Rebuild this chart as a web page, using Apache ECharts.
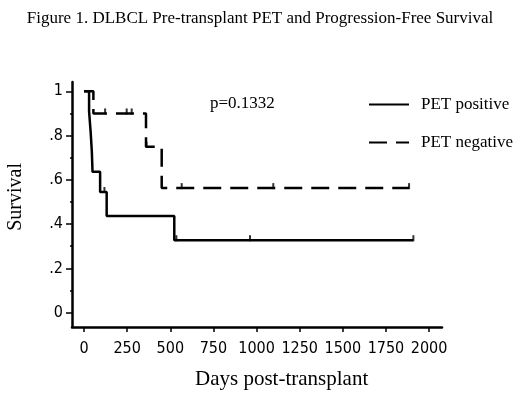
<!DOCTYPE html>
<html>
<head>
<meta charset="utf-8">
<script src="https://cdn.jsdelivr.net/npm/echarts@6/dist/echarts.min.js"></script>
<style>
  html, body { margin: 0; padding: 0; background: #fff; }
  #chart { width: 520px; height: 398px; }
</style>
</head>
<body>
<div id="chart"></div>
<script>
// Kaplan-Meier steps
const posDays = [0, 29, 38, 45, 49, 93, 131, 523, 1909];
const posSurv = [1, 0.909, 0.818, 0.727, 0.636, 0.545, 0.436, 0.327, 0.327];
const posCensorDays = [118, 535, 962, 1909];
const posCensorSurv = [0.545, 0.327, 0.327, 0.327];

const negDays = [0, 54, 359, 450, 1884];
const negSurv = [1, 0.9, 0.75, 0.5625, 0.5625];
const negCensorDays = [122, 247, 276, 362, 566, 1097, 1884];
const negCensorSurv = [0.9, 0.9, 0.9, 0.75, 0.5625, 0.5625, 0.5625];

const xTicks = [0, 250, 500, 750, 1000, 1250, 1500, 1750, 2000];
const yTicks = [0, 0.2, 0.4, 0.6, 0.8, 1];
const yMinorTicks = [0.1, 0.3, 0.5, 0.7, 0.9];

const serif = '"Liberation Serif", "Times New Roman", serif';
const narrow = '"DejaVu Sans Condensed", "Liberation Sans Narrow", "Arial Narrow", sans-serif';

const zip = (xs, ys) => xs.map((x, i) => [x, ys[i]]);

const chart = echarts.init(document.getElementById('chart'), null, { renderer: 'canvas' });

const yAxisBase = {
  type: 'value',
  min: -0.065,
  max: 1.042,
  splitLine: { show: false },
  position: 'left',
};

const censorStyle = {
  type: 'scatter',
  symbol: 'rect',
  symbolSize: [2, 6],
  symbolOffset: [0, -2],
  itemStyle: { color: '#000' },
  silent: true,
  z: 3,
};

chart.setOption({
  animation: false,
  backgroundColor: '#fff',
  title: {
    text: 'Figure 1. DLBCL Pre-transplant PET and Progression-Free Survival',
    left: 'center',
    top: 5,
    textStyle: { fontFamily: serif, fontSize: 17, fontWeight: 'normal', color: '#000' },
  },
  grid: { left: 72, right: 78, top: 82, bottom: 71 },
  legend: {
    orient: 'vertical',
    left: 363,
    top: 91,
    itemWidth: 40,
    itemHeight: 14,
    itemGap: 21,
    data: ['PET positive', 'PET negative'],
    itemStyle: { opacity: 0 },
    textStyle: { fontFamily: serif, fontSize: 17, color: '#000', padding: [0, 0, 0, 7] },
  },
  xAxis: {
    type: 'value',
    min: -70,
    max: 2075,
    splitLine: { show: false },
    axisLine: { onZero: false, lineStyle: { color: '#000', width: 2.5 } },
    axisTick: { customValues: xTicks, length: 5, lineStyle: { color: '#000', width: 1.5 } },
    axisLabel: {
      customValues: xTicks,
      margin: 14,
      fontFamily: narrow,
      fontSize: 16,
      color: '#000',
      formatter: v => String(v),
    },
  },
  yAxis: [
    Object.assign({}, yAxisBase, {
      axisLine: { show: true, onZero: false, lineStyle: { color: '#000', width: 2.5 } },
      axisTick: { customValues: yTicks, length: 6, lineStyle: { color: '#000', width: 1.5 } },
      axisLabel: {
        customValues: yTicks,
        margin: 9,
        fontFamily: narrow,
        fontSize: 16,
        color: '#000',
        formatter: v => (v === 0 ? '0' : v === 1 ? '1' : v.toFixed(1).replace(/^0/, '')),
      },
    }),
    Object.assign({}, yAxisBase, {
      axisLine: { show: false, onZero: false },
      axisTick: { customValues: yMinorTicks, length: 2, lineStyle: { color: '#000', width: 1.5 } },
      axisLabel: { show: false },
    }),
  ],
  graphic: [
    {
      type: 'text',
      left: 210,
      top: 95,
      style: { text: 'p=0.1332', font: '17px ' + serif, fill: '#000' },
    },
    {
      type: 'text',
      left: 195,
      top: 369,
      style: { text: 'Days post-transplant', font: '21px ' + serif, fill: '#000' },
    },
    {
      type: 'text',
      left: 6,
      top: 163,
      rotation: Math.PI / 2,
      style: { text: 'Survival', font: '20px ' + serif, fill: '#000' },
    },
  ],
  series: [
    {
      name: 'PET positive',
      type: 'line',
      step: 'end',
      symbol: 'none',
      data: zip(posDays, posSurv),
      lineStyle: { color: '#000', width: 2.5 },
      itemStyle: { color: '#000' },
      z: 4,
    },
    {
      name: 'PET negative',
      type: 'line',
      step: 'end',
      symbol: 'none',
      data: zip(negDays, negSurv),
      lineStyle: { color: '#000', width: 2.5, type: [18, 9] },
      itemStyle: { color: '#000' },
      z: 4,
    },
    Object.assign({ name: 'pos censored', data: zip(posCensorDays, posCensorSurv) }, censorStyle),
    Object.assign({ name: 'neg censored', data: zip(negCensorDays, negCensorSurv) }, censorStyle),
  ],
});

window.addEventListener('resize', () => chart.resize());
</script>
</body>
</html>
